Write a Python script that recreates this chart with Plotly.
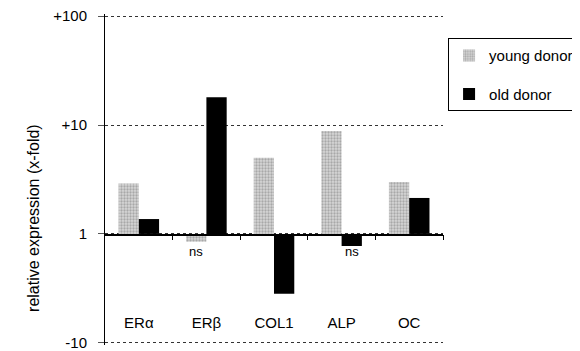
import numpy as np
import plotly.graph_objects as go

categories = ["ERα", "ERβ", "COL1", "ALP", "OC"]
young_fold = [2.9, -1.18, 5.0, 8.8, 3.0]
old_fold = [1.37, 18.0, -3.55, -1.29, 2.14]
young_ns = [False, True, False, False, False]
old_ns = [False, False, False, True, False]
y_tickvals = [-1, 0, 1, 2]
y_ticktext = ["-10", "1", "+10", "+100"]


def to_axis(v):
    v = np.asarray(v, dtype=float)
    return np.sign(v) * np.log10(np.abs(v))


xs = np.arange(len(categories))
yy = to_axis(young_fold)
yo = to_axis(old_fold)

FONT = "Liberation Sans, Arial, sans-serif"

fig = go.Figure()
fig.add_trace(go.Bar(
    x=xs, y=yy, name="young donor", legendgroup="a",
    marker=dict(color="#d2d2d2", line=dict(width=0),
                pattern=dict(shape=".", fgcolor="#7a7a7a", bgcolor="#d6d6d6",
                             size=3, solidity=0.45)),
))
fig.add_trace(go.Bar(
    x=xs, y=yo, name="old donor", legendgroup="b",
    marker=dict(color="#000000", line=dict(width=0)),
))
# carrier trace so the zero-line axis (xaxis2) is drawn
fig.add_trace(go.Scatter(x=xs, y=[0] * len(xs), xaxis="x2", mode="none",
                         showlegend=False, hoverinfo="skip"))

annotations = []
for i, (flag, v) in enumerate(zip(young_ns, yy)):
    if flag:
        annotations.append(dict(x=i - 0.15, y=min(v, 0), xref="x", yref="y",
                                text="ns", showarrow=False, yanchor="top",
                                yshift=0, font=dict(size=13, color="black", family=FONT)))
for i, (flag, v) in enumerate(zip(old_ns, yo)):
    if flag:
        annotations.append(dict(x=i + 0.15, y=min(v, 0), xref="x", yref="y",
                                text="ns", showarrow=False, yanchor="top",
                                yshift=4, font=dict(size=13, color="black", family=FONT)))
annotations.append(dict(x=-0.243, y=0.385, xref="paper", yref="paper",
                        text="relative expression (x-fold)", textangle=-90,
                        showarrow=False, font=dict(size=16, color="black", family=FONT)))

fig.update_layout(
    width=572, height=343,
    margin=dict(l=97, r=137, t=6, b=6, autoexpand=False),
    paper_bgcolor="white", plot_bgcolor="white",
    barmode="group", bargap=0.4, bargroupgap=0,
    font=dict(family=FONT, color="black", size=14),
    showlegend=True,
    legend=dict(x=1.015, y=0.927, xanchor="left", yanchor="top",
                bordercolor="black", borderwidth=1, bgcolor="white",
                traceorder="grouped", tracegroupgap=16,
                font=dict(size=15, family=FONT, color="black")),
    annotations=annotations,
    xaxis=dict(range=[-0.5, len(categories) - 0.5], tickvals=list(xs),
               ticktext=categories, anchor="free", position=0.10,
               showline=False, ticks="", showgrid=False, zeroline=False,
               automargin=False,
               tickfont=dict(size=15, family=FONT, color="black")),
    xaxis2=dict(range=[-0.5, len(categories) - 0.5], overlaying="x",
                anchor="free", position=1 / 3, side="bottom",
                tickvals=[i + 0.5 for i in xs], ticks="outside", ticklen=5,
                tickcolor="black", showticklabels=False, showline=True,
                linecolor="black", linewidth=1.5, showgrid=False, zeroline=False,
                automargin=False),
    yaxis=dict(range=[-1.02, 2.02], tickvals=y_tickvals, ticktext=y_ticktext,
               showline=True, linecolor="black", linewidth=1,
               ticks="outside", ticklen=6, tickcolor="#555",
               ticklabelstandoff=8, ticklabeloverflow="allow",
               showgrid=True, gridcolor="#333", griddash="dot", gridwidth=1,
               zeroline=False, automargin=False,
               tickfont=dict(size=15, family=FONT, color="black")),
)
fig.write_html("out.html")
